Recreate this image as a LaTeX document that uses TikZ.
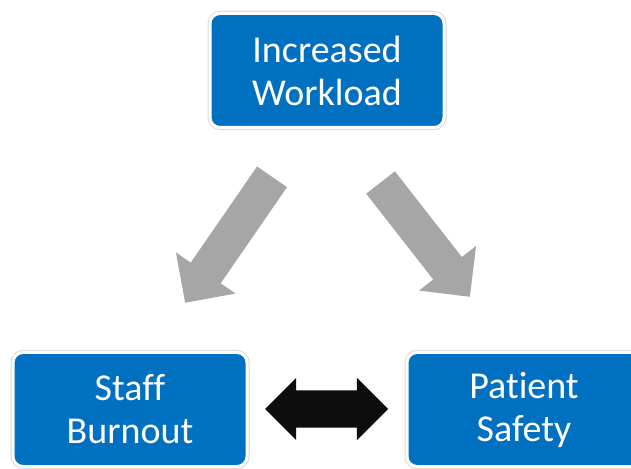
\documentclass[tikz,border=0pt]{standalone}
\usepackage{fontspec}
\setmainfont{Carlito}[Ligatures=NoCommon]
\definecolor{boxblue}{RGB}{0,112,192}
\definecolor{flowgrey}{RGB}{166,166,166}
\definecolor{linkblack}{RGB}{13,13,13}
\usetikzlibrary{shapes.arrows}
\tikzstyle{factor}=[rectangle,rounded corners=10pt,fill=boxblue,draw=white,line width=3pt,minimum width=234pt,minimum height=114pt,inner sep=0pt,text=white,align=center,font=\fontsize{38}{43}\selectfont,preaction={draw=black!15,line width=5pt}]
\tikzstyle{flow}=[single arrow,fill=flowgrey,minimum width=72pt,single arrow head extend=18pt,inner xsep=0pt,inner ysep=18pt,anchor=tip]
\tikzstyle{link}=[double arrow,fill=linkblack,minimum width=62pt,double arrow head extend=12.5pt,inner xsep=0pt,inner ysep=18.5pt]

\begin{document}
\begin{tikzpicture}[x=1pt,y=1pt]

            \node[factor] (workload) at (327,397.5) {Increased\\Workload};
            \node[factor] (burnout) at (130,58.5) {Staff\\Burnout};
            \node[factor] (safety) at (524,58.5) {Patient\\Safety};

            \node[flow,minimum height=153pt,rotate=235.4] (wl-sb) at (185,165) {};
            \node[flow,minimum height=145pt,rotate=-52] (wl-ps) at (470,171) {};
            \node[link,minimum height=123pt] (sb-ps) at (326.5,59) {};

            \pgfresetboundingbox
            \path [use as bounding box] (0,0) rectangle (631,468);
        \end{tikzpicture}
\end{document}
